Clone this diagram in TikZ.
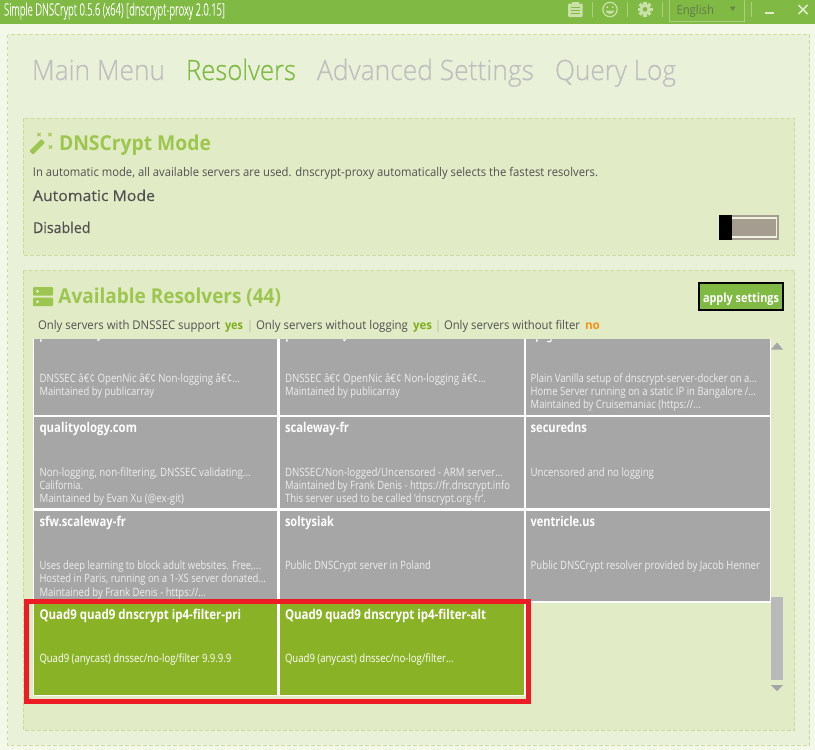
\documentclass[tikz,border=0pt]{standalone}
\usepackage{fontspec}
\usepackage{graphicx}
\setmainfont{Open Sans}
\newfontfamily\lightf[FakeBold=0.6]{Open Sans Light}
\newfontfamily\medf[FakeBold=0.3]{Open Sans}
\definecolor{barG}{HTML}{80B944}
\definecolor{pageBg}{HTML}{F3F8E8}
\definecolor{outerP}{HTML}{E9F2D8}
\definecolor{innerP}{HTML}{E1EBC5}
\definecolor{dashC}{HTML}{CBDB9B}
\definecolor{tabG}{HTML}{BFBFBF}
\definecolor{headG}{HTML}{9DC650}
\definecolor{bodyT}{HTML}{505050}
\definecolor{tileG}{HTML}{A6A6A6}
\definecolor{tileL}{HTML}{8AB227}
\definecolor{tileT}{HTML}{EEEEEE}
\definecolor{redB}{HTML}{ED1C24}
\definecolor{iconL}{HTML}{C9E0A6}
\definecolor{yesG}{HTML}{7FAE1E}
\definecolor{noO}{HTML}{F7931E}
\definecolor{togG}{HTML}{A59E90}
\tikzset{
  x=1pt,y=-1pt,
  tx/.style={anchor=base west,inner sep=0pt,outer sep=0pt},
  panel/.style={draw=dashC,line width=0.8pt,dash pattern=on 3.5pt off 2.5pt},
  tile/.style={fill=tileG,draw=none},
}
% name, x, baseline, right end, font, colour, text
\newcommand{\lab}[7]{\node[tx,text=#6] (#1) at (#2,#3) {\fontsize{#5}{#5}\selectfont\resizebox{\dimexpr#4pt-#2pt\relax}{\height}{#7}};}
\newcommand{\labm}[7]{\node[tx,text=#6] (#1) at (#2,#3) {\medf\fontsize{#5}{#5}\selectfont\resizebox{\dimexpr#4pt-#2pt\relax}{\height}{#7}};}
\newcommand{\labb}[7]{\node[tx,text=#6] (#1) at (#2,#3) {\fontsize{#5}{#5}\selectfont\bfseries\resizebox{\dimexpr#4pt-#2pt\relax}{\height}{#7}};}
\newcommand{\labl}[7]{\node[tx,text=#6] (#1) at (#2,#3) {\lightf\fontsize{#5}{#5}\selectfont\resizebox{\dimexpr#4pt-#2pt\relax}{\height}{#7}};}
\begin{document}
\begin{tikzpicture}
\useasboundingbox (0,0) rectangle (815,750);
\fill[pageBg] (0,0) rectangle (815,750);
\fill[barG] (0,0) rectangle (815,24);
\draw[panel,fill=outerP] (7.5,34.5) rectangle (809.5,745);
\draw[panel,fill=innerP] (23,118) rectangle (794.5,255);
\draw[panel,fill=innerP] (23,270) rectangle (794.5,730);
% title bar
\labl{title}{4}{15.5}{225}{17}{white}{Simple DNSCrypt 0.5.6 (x64) [dnscrypt-proxy 2.0.15]}
% clipboard icon
\fill[iconL,rounded corners=1pt] (568,3.5) rectangle (582.5,17);
\fill[iconL] (572,2) rectangle (578.5,5);
\draw[barG,line width=1pt] (571,7.5) -- (579.5,7.5) (571,10.5) -- (579.5,10.5) (571,13.5) -- (579.5,13.5);
\draw[iconL!60!barG,line width=.7pt] (592.5,2) -- (592.5,17) (627.5,2) -- (627.5,17) (662.5,2) -- (662.5,17) (751.5,2) -- (751.5,17);
% smiley
\draw[iconL,line width=1.2pt] (610,9.5) circle (7.2);
\fill[iconL] (607.2,7.2) circle (1.1) (612.8,7.2) circle (1.1);
\fill[iconL] (605.5,10.5) .. controls (606.5,15) and (613.5,15) .. (614.5,10.5) -- cycle;
% gear
\fill[iconL] (645,9.3) circle (5.5);
\foreach \a in {0,45,...,315}{\fill[iconL,rotate around={\a:(645,9.3)}] (643.3,1.8) rectangle (646.7,5.5);}
\fill[barG] (645,9.3) circle (2.3);
% language box
\draw[iconL!60!barG,line width=.8pt] (669.5,-1) rectangle (744.5,21.5);
\lab{lang}{676.5}{14.5}{714}{12.5}{bodyT!60!barG}{English}
\fill[bodyT!50!barG] (730,6.5) -- (735.5,6.5) -- (732.7,11) -- cycle;
% window buttons
\fill[iconL!60!white] (765,11.5) rectangle (774,14);
\draw[iconL!60!white,line width=1.6pt] (798.5,5) -- (807.5,14) (807.5,5) -- (798.5,14);
% tabs
\labl{tabA}{32}{80}{165}{28}{tabG}{Main Menu}
\labl{tabB}{186}{80}{296}{28}{barG}{Resolvers}
\labl{tabC}{317}{80}{534}{28}{tabG}{Advanced Settings}
\labl{tabD}{555}{80}{676}{28}{tabG}{Query Log}
% DNSCrypt Mode panel
\fill[headG,rotate around={-45:(39,145)},rounded corners=1pt] (36.5,139) rectangle (41.5,156);
\foreach \p in {(39,134.5),(50,134.5),(50.5,147)}{\draw[headG,line width=.8pt] \p ++(-1.7,-1.7) -- ++(3.4,3.4) \p ++(-1.7,1.7) -- ++(3.4,-3.4);}
\labb{modeH}{59}{150}{211}{20.5}{headG}{DNSCrypt Mode}
\lab{modeP}{33}{176}{598}{12}{bodyT}{In automatic mode, all available servers are used. dnscrypt-proxy automatically selects the fastest resolvers.}
\labm{autoM}{33}{201}{155}{15}{bodyT}{Automatic Mode}
\labm{disab}{33}{233}{90.5}{15}{bodyT}{Disabled}
% toggle
\fill[togG] (725,215) rectangle (779,240);
\fill[innerP!60!white] (725,217) rectangle (777,238);
\fill[togG] (725,219) rectangle (775.5,236);
\fill[black] (719,215) rectangle (732,240);
% Available resolvers
\fill[headG,rounded corners=1pt] (33,287) rectangle (53,295.5);
\fill[headG,rounded corners=1pt] (33,297.5) rectangle (53,306);
\fill[innerP] (37.5,291.2) circle (1.6) (37.5,301.8) circle (1.6);
\labb{availH}{58.5}{303}{281}{20.5}{headG}{Available Resolvers (44)}
\node[tx,fill=barG,draw=black,line width=2pt,minimum width=84pt,minimum height=27pt,anchor=north west] (applyB) at (699,283) {};
\labb{applyT}{703}{302}{779}{12.5}{white}{apply settings}
\lab{f1}{38}{329}{220}{12}{bodyT}{Only servers with DNSSEC support}
\labb{f1y}{225}{329}{243}{12}{yesG}{yes}
\lab{s1}{249}{329}{251}{12}{bodyT}{|}
\lab{f2}{256}{329}{408}{12}{bodyT}{Only servers without logging}
\labb{f2y}{413}{329}{432}{12}{yesG}{yes}
\lab{s2}{437}{329}{439}{12}{bodyT}{|}
\lab{f3}{444}{329}{580}{12}{bodyT}{Only servers without filter}
\labb{f3n}{585}{329}{600}{12}{noO}{no}
% tiles
\fill[white] (33,339.3) rectangle (526.5,696);
\fill[white] (526,339.3) rectangle (770.5,603);
\fill[tile] (33.5,339.3) rectangle (277,415);
\fill[tile] (280,339.3) rectangle (523.5,415);
\fill[tile] (526,339.3) rectangle (769.5,415);
\fill[tile] (33.5,417) rectangle (277,508);
\fill[tile] (280,417) rectangle (523.5,508);
\fill[tile] (526,417) rectangle (769.5,508);
\fill[tile] (33.5,511) rectangle (277,601);
\fill[tile] (280,511) rectangle (523.5,601);
\fill[tile] (526,511) rectangle (769.5,601);
\fill[tileL] (33.7,603) rectangle (277,695);
\fill[tileL] (280,603) rectangle (523.5,695);
% clipped title descenders of the first row
\fill[white] (40,339.3) rectangle (41.5,341.5) (97,339.3) -- (100.5,339.3) -- (98,341.5) -- cycle;
\fill[white] (286,339.3) rectangle (287.5,341.5) (343,339.3) -- (346.5,339.3) -- (344,341.5) -- cycle;
\fill[white] (536,339.3) rectangle (537.5,341.5) (547,341) -- (550,341) -- (551,339.3) -- (552,339.3) -- (551,342) -- (547,342) -- cycle;
% row 1
\lab{a1}{39.5}{382}{240}{11.5}{tileT}{DNSSEC â€¢ OpenNic â€¢ Non-logging â€¢...}
\lab{a2}{39.5}{395}{154}{11.5}{tileT}{Maintained by publicarray}
\lab{b1}{285}{382}{486}{11.5}{tileT}{DNSSEC â€¢ OpenNic â€¢ Non-logging â€¢...}
\lab{b2}{285}{395}{400}{11.5}{tileT}{Maintained by publicarray}
\lab{c1}{530.7}{382}{757}{11.5}{tileT}{Plain Vanilla setup of dnscrypt-server-docker on a...}
\lab{c2}{530.7}{395}{756}{11.5}{tileT}{Home Server running on a static IP in Bangalore /...}
\lab{c3}{530.7}{408.5}{701}{11.5}{tileT}{Maintained by Cruisemaniac (https://...}
% row 2
\labb{d0}{39.5}{432}{137}{13.5}{white}{qualityology.com}
\lab{d1}{39.5}{476}{250.7}{11.5}{tileT}{Non-logging, non-filtering, DNSSEC validating...}
\lab{d2}{39.5}{489}{83}{11.5}{tileT}{California.}
\lab{d3}{39.5}{502.7}{184}{11.5}{tileT}{Maintained by Evan Xu (@ex-git)}
\labb{e0}{285}{432}{349}{13.5}{white}{scaleway-fr}
\lab{e1}{285}{476}{503}{11.5}{tileT}{DNSSEC/Non-logged/Uncensored - ARM server...}
\lab{e2}{285}{489}{510}{11.5}{tileT}{Maintained by Frank Denis - https://fr.dnscrypt.info}
\lab{e3}{285}{502.7}{486}{11.5}{tileT}{This server used to be called \symbol{96}dnscrypt.org-fr\symbol{96}.}
\labb{g0}{530.7}{432}{587}{13.5}{white}{securedns}
\lab{g1}{530.7}{476}{654}{11.5}{tileT}{Uncensored and no logging}
% row 3
\labb{h0}{39.5}{526}{126}{13.5}{white}{sfw.scaleway-fr}
\lab{h1}{39.5}{569.3}{261}{11.5}{tileT}{Uses deep learning to block adult websites. Free,...}
\lab{h2}{39.5}{582.3}{266}{11.5}{tileT}{Hosted in Paris, running on a 1-XS server donated...}
\lab{h3}{39.5}{596}{206}{11.5}{tileT}{Maintained by Frank Denis - https://...}
\labb{i0}{285}{526}{334}{13.5}{white}{soltysiak}
\lab{i1}{285}{569.3}{431}{11.5}{tileT}{Public DNSCrypt server in Poland}
\labb{j0}{530.7}{526}{595}{13.5}{white}{ventricle.us}
\lab{j1}{530.7}{569.3}{760}{11.5}{tileT}{Public DNSCrypt resolver provided by Jacob Henner}
% row 4
\labb{k0}{39.5}{619}{241}{13.5}{white}{Quad9 quad9 dnscrypt ip4-filter-pri}
\lab{k1}{39.5}{662.7}{231.3}{11.5}{white}{Quad9 (anycast) dnssec/no-log/filter 9.9.9.9}
\labb{l0}{285}{619}{486}{13.5}{white}{Quad9 quad9 dnscrypt ip4-filter-alt}
\lab{l1}{285}{662.7}{453.7}{11.5}{white}{Quad9 (anycast) dnssec/no-log/filter...}
% scrollbar
\fill[gray!70] (777,342.5) -- (783,349.5) -- (771,349.5) -- cycle;
\fill[gray!55] (771,597) rectangle (783,680);
\fill[gray!70] (771,685) -- (783,685) -- (777,691) -- cycle;
% red frame
\draw[redB,line width=4.6pt] (26.3,601.7) rectangle (528.5,701.5);
\end{tikzpicture}
\end{document}
